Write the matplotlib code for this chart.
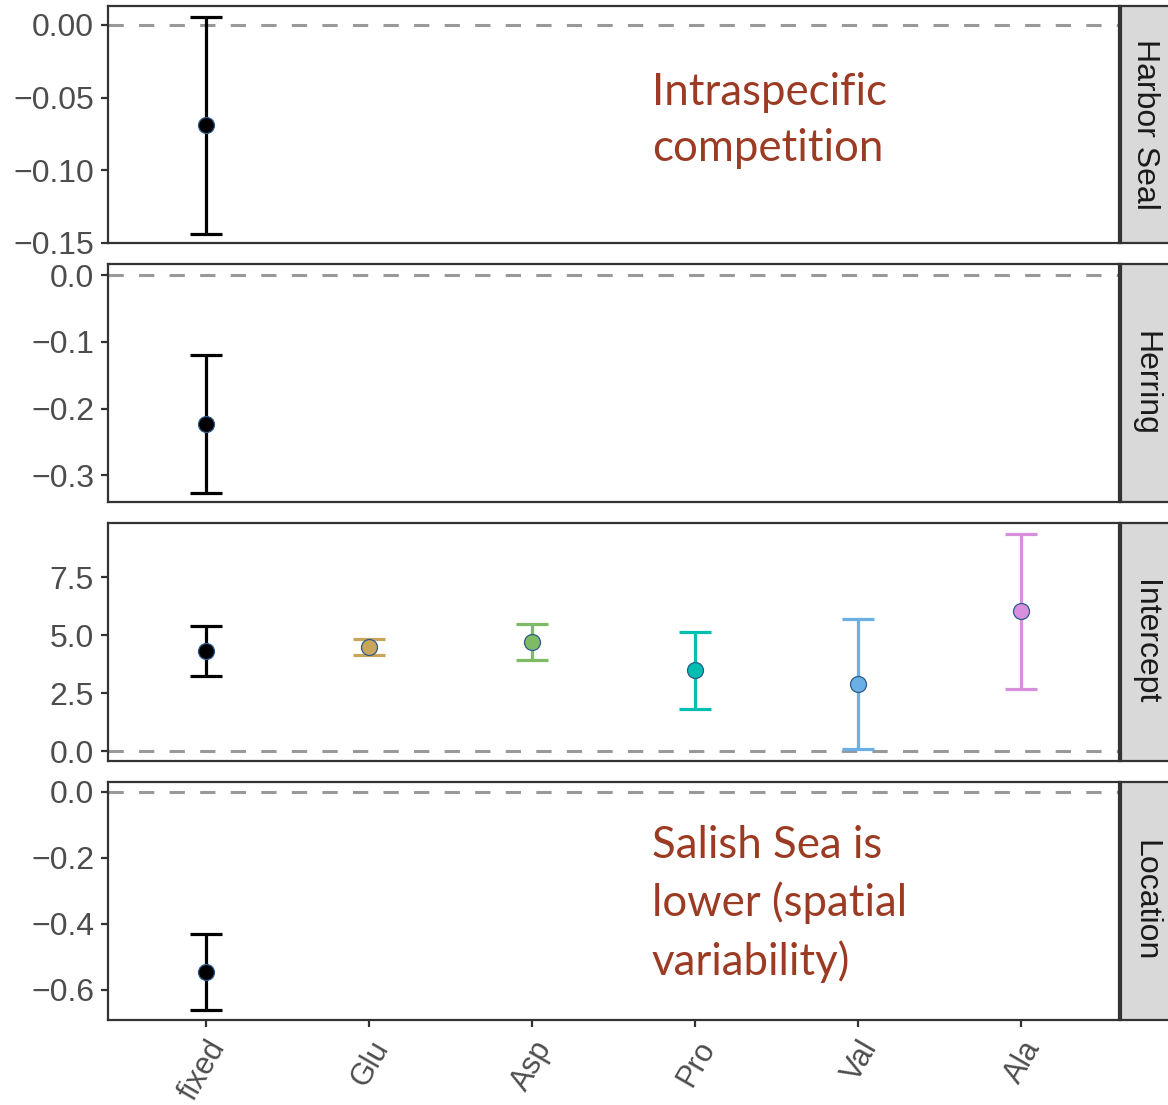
import numpy as np
import matplotlib
matplotlib.use("Agg")
import matplotlib.pyplot as plt

categories = ["fixed", "Glu", "Asp", "Pro", "Val", "Ala"]
colors = ["#000000", "#C9A55A", "#7FBA65", "#00BFB0", "#6AAFE6", "#D88FDE"]

panel_names = ["Harbor Seal", "Herring", "Intercept", "Location"]

seal_est = [-0.069]
seal_lo = [-0.1437]
seal_hi = [0.0055]

herring_est = [-0.2235]
herring_lo = [-0.327]
herring_hi = [-0.120]

intercept_est = [4.31, 4.48, 4.70, 3.49, 2.89, 6.03]
intercept_lo = [3.23, 4.14, 3.92, 1.81, 0.09, 2.67]
intercept_hi = [5.39, 4.83, 5.47, 5.13, 5.69, 9.35]

location_est = [-0.545]
location_lo = [-0.661]
location_hi = [-0.430]

yticks = [
    [0.00, -0.05, -0.10, -0.15],
    [0.0, -0.1, -0.2, -0.3],
    [0.0, 2.5, 5.0, 7.5],
    [0.0, -0.2, -0.4, -0.6],
]
ytick_fmt = ["{:.2f}", "{:.1f}", "{:.1f}", "{:.1f}"]
ylims = [(-0.150, 0.013), (-0.340, 0.0165), (-0.43, 9.83), (-0.691, 0.030)]

plt.rcParams['font.family'] = ['Liberation Sans', 'DejaVu Sans']

W, H = 1168, 1105
fig = plt.figure(figsize=(W / 100, H / 100), dpi=100)

panel_px = [(6, 243), (264, 502), (523, 761), (782, 1020)]
left, right = 108, 1119

data = [
    (seal_est, seal_lo, seal_hi),
    (herring_est, herring_lo, herring_hi),
    (intercept_est, intercept_lo, intercept_hi),
    (location_est, location_lo, location_hi),
]

for i, (top, bot) in enumerate(panel_px):
    ax = fig.add_axes([left / W, 1 - bot / H, (right - left) / W, (bot - top) / H])
    est, lo, hi = data[i]
    ax.axhline(0, color="#999999", lw=2.2, linestyle=(0, (5, 5)), zorder=1)
    for j in range(len(est)):
        ax.errorbar(j, est[j], yerr=[[est[j] - lo[j]], [hi[j] - est[j]]],
                    fmt="none", ecolor=colors[j], elinewidth=2.3,
                    capsize=11.5, capthick=2.3, zorder=2)
        ax.plot(j, est[j], "o", ms=11.5, mfc=colors[j], mec="#2B5A8C",
                mew=0.9, zorder=3)
    ax.set_xlim(-0.6, 5.6)
    ax.set_ylim(*ylims[i])
    ax.set_yticks(yticks[i])
    ax.set_yticklabels([ytick_fmt[i].format(v).replace("-", "\u2212") for v in yticks[i]])
    ax.set_xticks(range(len(categories)))
    for s in ax.spines.values():
        s.set_color("#333333")
        s.set_linewidth(1.6)
    ax.tick_params(axis="y", length=5, width=1.6, color="#333333",
                   labelsize=23, labelcolor="#4D4D4D", pad=5)
    if i < 3:
        ax.tick_params(axis="x", length=0, labelbottom=False)
    else:
        ax.tick_params(axis="x", length=5, width=1.6, color="#333333",
                       labelsize=22, labelcolor="#4D4D4D", pad=6)
        ax.set_xticklabels(categories, rotation=60, ha="right", va="top",
                           rotation_mode="anchor")

    # facet strip on the right
    sax = fig.add_axes([1121 / W, 1 - bot / H, 54 / W, (bot - top) / H])
    sax.set_facecolor("#D9D9D9")
    sax.set_xticks([])
    sax.set_yticks([])
    for s in sax.spines.values():
        s.set_color("#333333")
        s.set_linewidth(1.6)
    sax.text(0.45, 0.5, panel_names[i], rotation=-90, ha="center", va="center",
             fontsize=23, color="#1A1A1A", transform=sax.transAxes)

note_color = "#9C3B23"
fig.text(652 / W, 1 - 72 / H, "Intraspecific\ncompetition", ha="left", va="top",
         fontsize=31.5, color=note_color, family=["Lato", "DejaVu Sans"],
         linespacing=1.45)
fig.text(652 / W, 1 - 825 / H, "Salish Sea is\nlower (spatial\nvariability)",
         ha="left", va="top", fontsize=31.5, color=note_color,
         family=["Lato", "DejaVu Sans"], linespacing=1.45)

fig.savefig("out.png", dpi=100)
